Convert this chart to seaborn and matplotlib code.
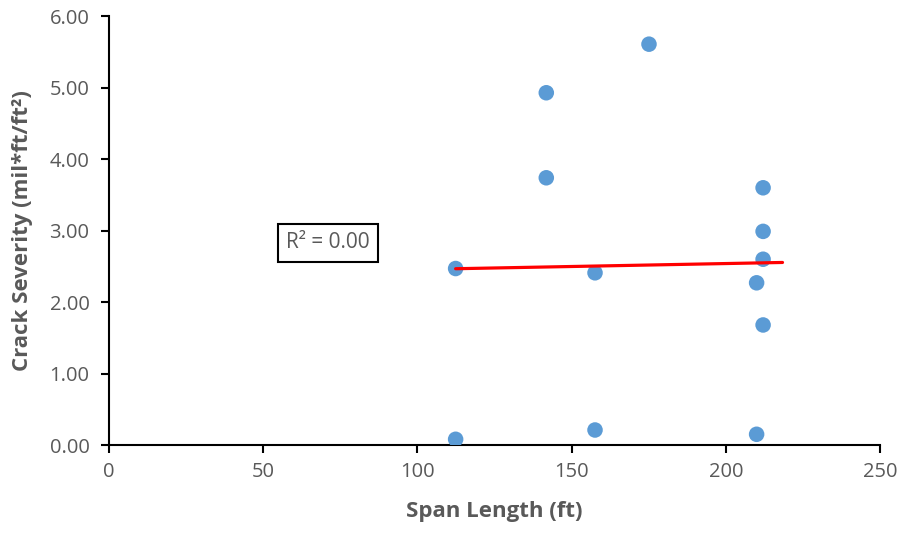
import numpy as np
import pandas as pd
import matplotlib
matplotlib.use("Agg")
import matplotlib.pyplot as plt
import seaborn as sns

span_length = [112.4, 112.4, 141.8, 141.8, 157.6, 157.6, 175.1, 212.1, 212.1, 212.1, 210.0, 212.1, 210.0]
crack_severity = [2.47, 0.08, 4.93, 3.74, 2.41, 0.21, 5.61, 3.60, 2.99, 2.60, 2.27, 1.68, 0.15]
trend_x_end = 218.4
x_ticks = [0, 50, 100, 150, 200, 250]
y_ticks = [0, 1, 2, 3, 4, 5, 6]

sns.set_theme(style="white")
plt.rcParams['font.family'] = ['Open Sans', 'DejaVu Sans']

df = pd.DataFrame({"Span Length (ft)": span_length, "Crack Severity": crack_severity})

fig = plt.figure(figsize=(9.03, 5.33), dpi=100)
ax = fig.add_axes([0.1207, 0.1651, 0.8538, 0.8043])

gray = "#595959"
sns.scatterplot(data=df, x="Span Length (ft)", y="Crack Severity", ax=ax,
                color="#5B9BD5", s=125, edgecolor="none", zorder=3)

# linear trendline
x = np.array(span_length)
y = np.array(crack_severity)
slope, intercept = np.polyfit(x, y, 1)
pred = slope * x + intercept
r2 = 1 - np.sum((y - pred) ** 2) / np.sum((y - y.mean()) ** 2)
tx = np.array([x.min(), trend_x_end])
sns.lineplot(x=tx, y=slope * tx + intercept, ax=ax, color="#FF0000", linewidth=2.3, zorder=4)

ax.text(71, 2.83, f"R² = {r2:.2f}", ha="center", va="center", fontsize=15, color=gray,
        bbox=dict(boxstyle="square,pad=0.4", facecolor="white", edgecolor="black", linewidth=1.5))

ax.set_xlim(0, 250)
ax.set_ylim(0, 6)
ax.set_xticks(x_ticks)
ax.set_yticks(y_ticks)
ax.set_yticklabels([f"{v:.2f}" for v in y_ticks])
ax.set_xticklabels([str(v) for v in x_ticks])

for s in ["top", "right"]:
    ax.spines[s].set_visible(False)
for s in ["left", "bottom"]:
    ax.spines[s].set_color("black")
    ax.spines[s].set_linewidth(1.5)

ax.tick_params(axis="both", which="major", direction="out", length=6, width=1.5,
               color="black", labelcolor=gray, labelsize=14.5, left=True, bottom=True)
ax.tick_params(axis="x", pad=6)
ax.tick_params(axis="y", pad=8)
ax.grid(False)

ax.set_xlabel("Span Length (ft)", fontsize=16, fontweight="bold", color=gray, labelpad=14)
ax.set_ylabel("Crack Severity (mil*ft/ft²)", fontsize=16, fontweight="bold", color=gray, labelpad=12)

fig.savefig("out.png", dpi=100)
